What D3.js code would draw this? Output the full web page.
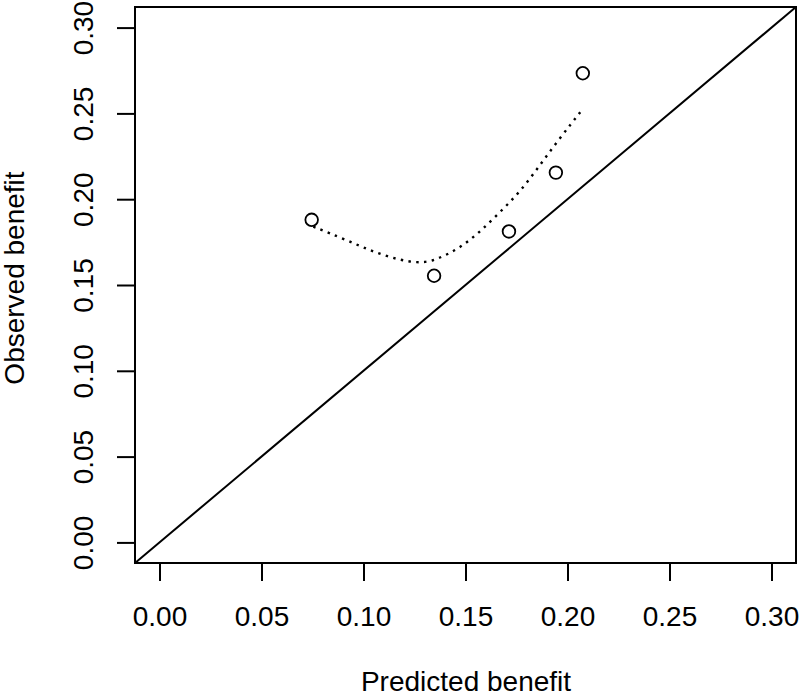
<!DOCTYPE html>
<html>
<head>
<meta charset="utf-8">
<script src="https://cdn.jsdelivr.net/npm/d3@7"></script>
<style>
  html, body { margin: 0; padding: 0; background: #fff; }
  svg { display: block; font-family: "Liberation Sans", Arial, sans-serif; }
</style>
</head>
<body>
<svg id="chart" width="800" height="698"></svg>
<script>
// Observed points (predicted vs observed benefit)
const predicted = [0.0746, 0.1346, 0.1713, 0.1943, 0.2075];
const observed  = [0.1880, 0.1554, 0.1812, 0.2155, 0.2734];
// Smoothed (dotted) curve
const smoothX = [0.0754, 0.0918, 0.1081, 0.1277, 0.1375, 0.1473, 0.1571, 0.1669, 0.1767, 0.1865, 0.1963, 0.2071];
const smoothY = [0.1840, 0.1762, 0.1675, 0.1617, 0.1657, 0.1716, 0.1809, 0.1925, 0.2042, 0.2199, 0.2357, 0.2520];
// Axis ticks
const ticks = [0.00, 0.05, 0.10, 0.15, 0.20, 0.25, 0.30];
const xTitle = "Predicted benefit";
const yTitle = "Observed benefit";

const svg = d3.select("#chart");
const L = 135, R = 796, T = 7, B = 563;
const x = d3.scaleLinear().domain([-0.012, 0.312]).range([L, R]);
const y = d3.scaleLinear().domain([-0.012, 0.312]).range([B, T]);

svg.append("defs").append("clipPath").attr("id", "clip")
  .append("rect").attr("x", L).attr("y", T).attr("width", R - L).attr("height", B - T);

// identity line
svg.append("line")
  .attr("clip-path", "url(#clip)")
  .attr("x1", x(-0.012)).attr("y1", y(-0.012))
  .attr("x2", x(0.312)).attr("y2", y(0.312))
  .attr("stroke", "#000").attr("stroke-width", 2);

// smoothed curve
const smooth = smoothX.map((v, i) => [v, smoothY[i]]);
svg.append("path")
  .datum(smooth)
  .attr("d", d3.line().x(d => x(d[0])).y(d => y(d[1])).curve(d3.curveBasis))
  .attr("fill", "none").attr("stroke", "#000")
  .attr("stroke-width", 2.4).attr("stroke-dasharray", "2.4,5.4");

// points
svg.append("g").selectAll("circle")
  .data(predicted.map((v, i) => [v, observed[i]]))
  .join("circle")
  .attr("cx", d => x(d[0])).attr("cy", d => y(d[1]))
  .attr("r", 6.3)
  .attr("fill", "none").attr("stroke", "#000").attr("stroke-width", 1.8);

// box
svg.append("rect").attr("x", L).attr("y", T).attr("width", R - L).attr("height", B - T)
  .attr("fill", "none").attr("stroke", "#000").attr("stroke-width", 2);

// x axis
const xa = svg.append("g").attr("transform", `translate(0,${B})`)
  .call(d3.axisBottom(x).tickValues(ticks).tickSize(18).tickFormat(d3.format(".2f")));
xa.select(".domain").remove();
xa.selectAll(".tick line").attr("stroke", "#000").attr("stroke-width", 2);
xa.selectAll(".tick text").attr("font-size", 28).attr("fill", "#000")
  .attr("font-family", "Liberation Sans, Arial, sans-serif")
  .attr("dy", null).attr("y", 63);

// y axis
const ya = svg.append("g").attr("transform", `translate(${L},0)`)
  .call(d3.axisLeft(y).tickValues(ticks).tickSize(18).tickFormat(d3.format(".2f")));
ya.select(".domain").remove();
ya.selectAll(".tick line").attr("stroke", "#000").attr("stroke-width", 2);
ya.selectAll(".tick text")
  .attr("font-size", 28).attr("fill", "#000")
  .attr("font-family", "Liberation Sans, Arial, sans-serif")
  .attr("x", null).attr("dy", null)
  .attr("text-anchor", "middle")
  .attr("transform", "translate(-42,0) rotate(-90)");

// titles
svg.append("text").attr("x", 466).attr("y", 691)
  .attr("text-anchor", "middle").attr("font-size", 28).attr("fill", "#000")
  .text(xTitle);
svg.append("text")
  .attr("transform", "translate(24,278) rotate(-90)")
  .attr("text-anchor", "middle").attr("font-size", 28).attr("fill", "#000")
  .text(yTitle);
</script>
</body>
</html>
